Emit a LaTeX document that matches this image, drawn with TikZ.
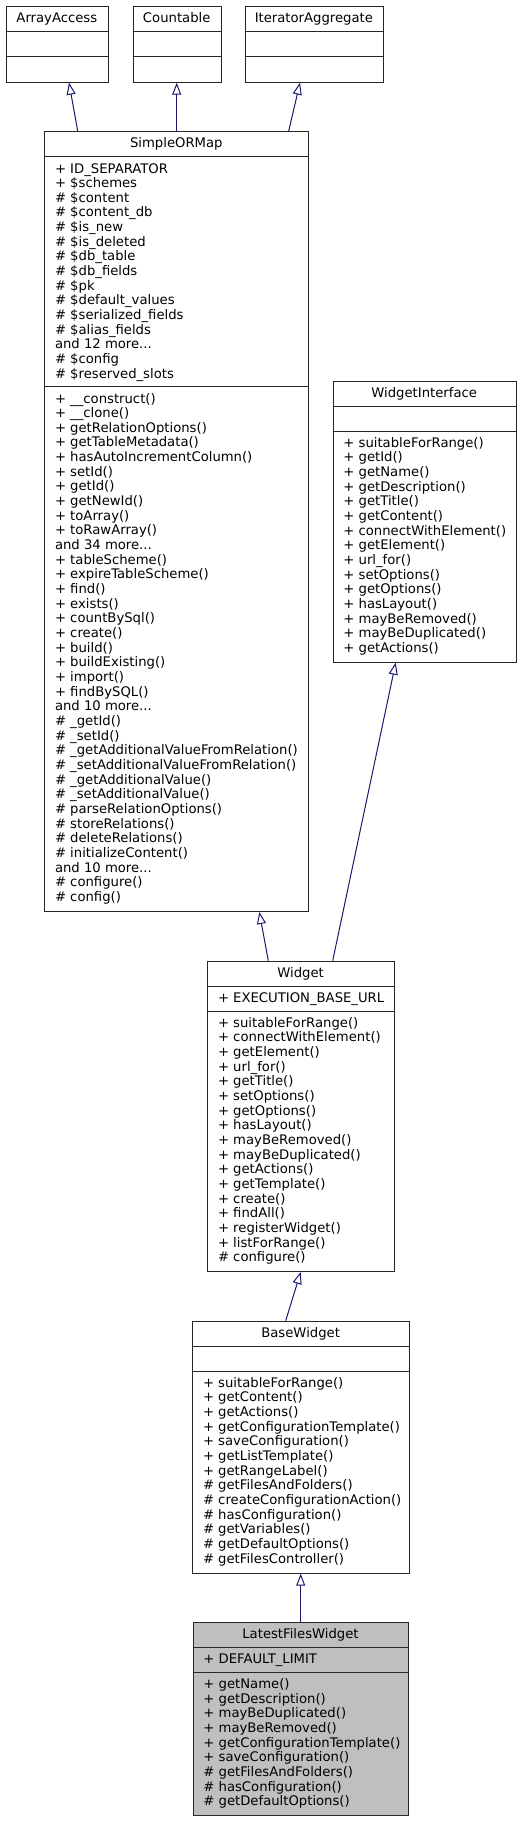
\documentclass[tikz,border=0pt]{standalone}
\usepackage{fontspec}
\setmainfont{DejaVu Sans}
\usetikzlibrary{arrows.meta}
\definecolor{edgeblue}{HTML}{191970}
\definecolor{boxborder}{HTML}{262626}
\definecolor{hilite}{HTML}{BFBFBF}
\tikzset{
  classbox/.style={draw=boxborder, line width=1pt, fill=white, inner sep=0pt, anchor=north west},
  sepline/.style={draw=boxborder, line width=1pt},
  txt/.style={anchor=base west, inner sep=0pt, font=\fontsize{13.2}{15}\selectfont},
  ttl/.style={anchor=base, inner sep=0pt, font=\fontsize{13.2}{15}\selectfont},
  inh/.style={draw=edgeblue, line width=1pt, -{Triangle[open, length=12pt, width=9pt]}},
}
\newcommand{\cmplines}[4]{%
  \foreach \t [count=\i] in {#4} {\node[txt] (#1-\i) at (#2, {#3+(\i-1)*14.66}) {\t};}}
\newcommand{\dotsthree}{.{}.{}.}
\begin{document}
\begin{tikzpicture}[x=1pt, y=-1pt]
\useasboundingbox (0,0) rectangle (521,1821);

% ---------- ArrayAccess ----------
\node[classbox, minimum width=102.3pt, minimum height=76pt] (aa) at (5.7,5.7) {};
\draw[sepline] (aa.west |- 0,31) -- (aa.east |- 0,31);
\draw[sepline] (aa.west |- 0,56.7) -- (aa.east |- 0,56.7);
\node[ttl] (aa-t) at (56.85,22.3) {ArrayAccess};

% ---------- Countable ----------
\node[classbox, minimum width=88pt, minimum height=76pt] (ct) at (132.7,5.7) {};
\draw[sepline] (ct.west |- 0,31) -- (ct.east |- 0,31);
\draw[sepline] (ct.west |- 0,56.7) -- (ct.east |- 0,56.7);
\node[ttl] (ct-t) at (176.7,22.3) {Countable};

% ---------- IteratorAggregate ----------
\node[classbox, minimum width=137.7pt, minimum height=76pt] (ia) at (245,5.7) {};
\draw[sepline] (ia.west |- 0,31) -- (ia.east |- 0,31);
\draw[sepline] (ia.west |- 0,56.7) -- (ia.east |- 0,56.7);
\node[ttl] (ia-t) at (313.85,22.3) {IteratorAggregate};

% ---------- SimpleORMap ----------
\node[classbox, minimum width=264pt, minimum height=780pt] (som) at (44.3,131) {};
\draw[sepline] (som.west |- 0,156.7) -- (som.east |- 0,156.7);
\draw[sepline] (som.west |- 0,386.7) -- (som.east |- 0,386.7);
\node[ttl] (som-t) at (176.3,147.6) {SimpleORMap};
\cmplines{soma}{54.8}{173}{+ ID\_SEPARATOR, + \$schemes, \# \$content, \# \$content\_db, \# \$is\_new, \# \$is\_deleted, \# \$db\_table, \# \$db\_fields, \# \$pk, \# \$default\_values, \# \$serialized\_fields, \# \$alias\_fields, and 12 more\dotsthree, \# \$config, \# \$reserved\_slots}
\cmplines{somm}{54.8}{403}{+ \_\_construct(), + \_\_clone(), + getRelationOptions(), + getTableMetadata(), + hasAutoIncrementColumn(), + setId(), + getId(), + getNewId(), + toArray(), + toRawArray(), and 34 more\dotsthree, + tableScheme(), + expireTableScheme(), + find(), + exists(), + countBySql(), + create(), + build(), + buildExisting(), + import(), + findBySQL(), and 10 more\dotsthree, \# \_getId(), \# \_setId(), \# \_getAdditionalValueFromRelation(), \# \_setAdditionalValueFromRelation(), \# \_getAdditionalValue(), \# \_setAdditionalValue(), \# parseRelationOptions(), \# storeRelations(), \# deleteRelations(), \# initializeContent(), and 10 more\dotsthree, \# configure(), \# config()}

% ---------- WidgetInterface ----------
\node[classbox, minimum width=183pt, minimum height=280.7pt] (wi) at (332.7,381) {};
\draw[sepline] (wi.west |- 0,406) -- (wi.east |- 0,406);
\draw[sepline] (wi.west |- 0,431) -- (wi.east |- 0,431);
\node[ttl] (wi-t) at (424.2,397.6) {WidgetInterface};
\cmplines{wim}{343.2}{447.3}{+ suitableForRange(), + getId(), + getName(), + getDescription(), + getTitle(), + getContent(), + connectWithElement(), + getElement(), + url\_for(), + setOptions(), + getOptions(), + hasLayout(), + mayBeRemoved(), + mayBeDuplicated(), + getActions()}

% ---------- Widget ----------
\node[classbox, minimum width=186.7pt, minimum height=310.3pt] (w) at (207.3,960.7) {};
\draw[sepline] (w.west |- 0,986) -- (w.east |- 0,986);
\draw[sepline] (w.west |- 0,1011) -- (w.east |- 0,1011);
\node[ttl] (w-t) at (300.65,977.3) {Widget};
\cmplines{wa}{217.8}{1002.3}{+ EXECUTION\_BASE\_URL}
\cmplines{wm}{217.8}{1027.3}{+ suitableForRange(), + connectWithElement(), + getElement(), + url\_for(), + getTitle(), + setOptions(), + getOptions(), + hasLayout(), + mayBeRemoved(), + mayBeDuplicated(), + getActions(), + getTemplate(), + create(), + findAll(), + registerWidget(), + listForRange(), \# configure()}

% ---------- BaseWidget ----------
\node[classbox, minimum width=216.7pt, minimum height=252pt] (bw) at (192.3,1320.7) {};
\draw[sepline] (bw.west |- 0,1346) -- (bw.east |- 0,1346);
\draw[sepline] (bw.west |- 0,1371) -- (bw.east |- 0,1371);
\node[ttl] (bw-t) at (300.65,1337.3) {BaseWidget};
\cmplines{bwm}{202.8}{1387.3}{+ suitableForRange(), + getContent(), + getActions(), + getConfigurationTemplate(), + saveConfiguration(), + getListTemplate(), + getRangeLabel(), \# getFilesAndFolders(), \# createConfigurationAction(), \# hasConfiguration(), \# getVariables(), \# getDefaultOptions(), \# getFilesController()}

% ---------- LatestFilesWidget ----------
\node[classbox, fill=hilite, minimum width=215.6pt, minimum height=192.7pt] (lfw) at (192.7,1622.3) {};
\draw[sepline] (lfw.west |- 0,1647.3) -- (lfw.east |- 0,1647.3);
\draw[sepline] (lfw.west |- 0,1672.3) -- (lfw.east |- 0,1672.3);
\node[ttl] (lfw-t) at (300.5,1638.9) {LatestFilesWidget};
\cmplines{lfwa}{203.2}{1663.6}{+ DEFAULT\_LIMIT}
\cmplines{lfwm}{203.2}{1688.6}{+ getName(), + getDescription(), + mayBeDuplicated(), + mayBeRemoved(), + getConfigurationTemplate(), + saveConfiguration(), \# getFilesAndFolders(), \# hasConfiguration(), \# getDefaultOptions()}

% ---------- inheritance ----------
\draw[inh] ([xshift=33.4pt]som.north west) -- ([xshift=63.3pt]aa.south west);
\draw[inh] ([xshift=132.4pt]som.north west) -- ([xshift=44pt]ct.south west);
\draw[inh] ([xshift=244.4pt]som.north west) -- ([xshift=55pt]ia.south west);
\draw[inh] ([xshift=61pt]w.north west) -- ([xshift=215pt]som.south west);
\draw[inh] ([xshift=125.4pt]w.north west) -- ([xshift=63pt]wi.south west);
\draw[inh] ([xshift=93.4pt]bw.north west) -- ([xshift=93.4pt]w.south west);
\draw[inh] ([xshift=108pt]lfw.north west) -- ([xshift=108.4pt]bw.south west);
\end{tikzpicture}
\end{document}
